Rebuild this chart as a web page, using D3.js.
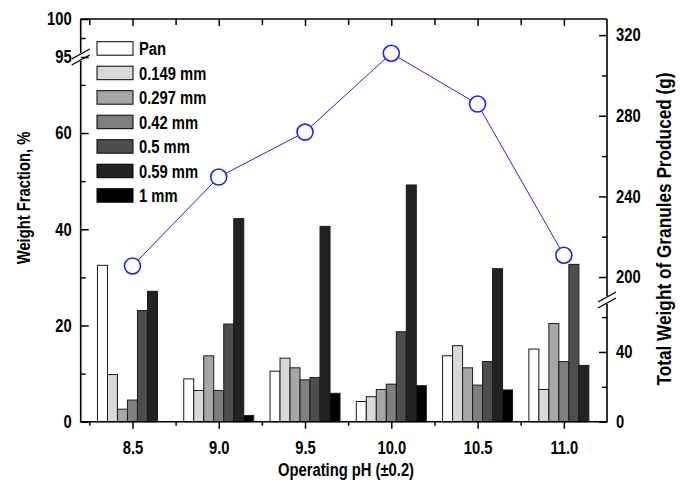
<!DOCTYPE html>
<html>
<head>
<meta charset="utf-8">
<script src="https://d3js.org/d3.v7.min.js"></script>
<style>
  body { margin: 0; background: #fff; }
  text { font-family: "Liberation Sans", Arial, sans-serif; font-weight: bold; }
</style>
</head>
<body>
<svg id="chart" width="686" height="483"></svg>
<script>

var phValues = [8.5, 9.0, 9.5, 10.0, 10.5, 11.0];
var sizeNames = ["Pan", "0.149 mm", "0.297 mm", "0.42 mm", "0.5 mm", "0.59 mm", "1 mm"];
var sizeColors = ["#ffffff", "#d9d9d9", "#a6a6a6", "#7f7f7f", "#4d4d4d", "#222222", "#000000"];

// weight fraction (%) per size, one value for each pH
var pan      = [32.5, 8.9, 10.5, 4.2, 13.7, 15.1];
var mm0149   = [9.8, 6.5, 13.2, 5.2, 15.8, 6.7];
var mm0297   = [2.6, 13.7, 11.2, 6.7, 11.2, 20.4];
var mm042    = [4.5, 6.5, 8.7, 7.8, 7.6, 12.5];
var mm05     = [23.1, 20.3, 9.2, 18.7, 12.5, 32.7];
var mm059    = [27.1, 42.2, 40.6, 49.2, 31.8, 11.7];
var mm1      = [0, 1.3, 5.9, 7.5, 6.6, 0];
var fractions = [pan, mm0149, mm0297, mm042, mm05, mm059, mm1];

// total weight of granules (g)
var totalWeight = [205.5, 249.6, 271.9, 311.0, 285.8, 210.8];

var leftTicksLow = [0, 20, 40, 60], leftMinorLow = [10, 30, 50, 70];
var leftTicksHigh = [95, 100], leftMinorHigh = [97.5];
var rightTicksLow = [0, 40], rightMinorLow = [20, 60];
var rightTicksHigh = [200, 240, 280, 320], rightMinorHigh = [220, 260, 300];
var xMajor = [8.5, 9.0, 9.5, 10.0, 10.5, 11.0];
var xMinor = [8.25, 8.75, 9.25, 9.75, 10.25, 10.75];

var svg = d3.select('#chart');
var L = 80.7, R = 607, T = 19, B = 421.7, brkL = 57, brkR = 300;

var x = d3.scaleLinear().domain([8.2, 11.25]).range([L, R]);
var yLow = d3.scaleLinear().domain([0, 75.8]).range([B, brkL]);
var yHigh = d3.scaleLinear().domain([95, 100]).range([brkL, T]);
var rLow = d3.scaleLinear().domain([0, 69.8]).range([B, brkR]);
var rHigh = d3.scaleLinear().domain([188.6, 328]).range([brkR, T]);
var band = d3.scaleBand().domain(sizeNames).range([-35, 35]);

// bars
sizeNames.forEach(function(name, i) {
  svg.append('g').selectAll('rect')
    .data(fractions[i].map(function(v, j){ return {ph: phValues[j], v: v}; }).filter(function(d){ return d.v > 0; }))
    .enter().append('rect')
      .attr('x', function(d){ return x(d.ph) + band(name); })
      .attr('width', band.bandwidth())
      .attr('y', function(d){ return yLow(d.v); })
      .attr('height', function(d){ return B - yLow(d.v); })
      .style('fill', sizeColors[i])
      .style('stroke', '#1a1a1a')
      .style('stroke-width', 1);
});

// line
var line = d3.line().x(function(d, i){ return x(phValues[i]); }).y(function(d){ return rHigh(d); });
svg.append('path').datum(totalWeight).attr('d', line)
  .style('fill', 'none').style('stroke', '#1f1fff').style('stroke-width', 1);
svg.append('g').selectAll('circle').data(totalWeight).enter().append('circle')
  .attr('cx', function(d, i){ return x(phValues[i]); })
  .attr('cy', function(d){ return rHigh(d); })
  .attr('r', 8)
  .style('fill', '#fff').style('stroke', '#1f1fff').style('stroke-width', 1.6);

// axes
var intFmt = d3.format('d');
function styleAxis(g) {
  g.select('.domain').remove();
  g.selectAll('line').style('stroke', '#000').style('stroke-width', 1.5);
  g.selectAll('text').style('font-size', '18px').style('fill', '#000');
}
function addAxis(axis, minorAxis, tx, ty) {
  var g = svg.append('g').attr('transform', 'translate(' + tx + ',' + ty + ')').call(axis).call(styleAxis);
  svg.append('g').attr('transform', 'translate(' + tx + ',' + ty + ')').call(minorAxis).call(styleAxis);
  return g;
}
addAxis(d3.axisLeft(yLow).tickValues(leftTicksLow).tickSize(-8).tickPadding(9).tickFormat(intFmt),
        d3.axisLeft(yLow).tickValues(leftMinorLow).tickSize(-5).tickFormat(''), L, 0);
addAxis(d3.axisLeft(yHigh).tickValues(leftTicksHigh).tickSize(-8).tickPadding(9).tickFormat(intFmt),
        d3.axisLeft(yHigh).tickValues(leftMinorHigh).tickSize(-5).tickFormat(''), L, 0);
addAxis(d3.axisRight(rLow).tickValues(rightTicksLow).tickSize(-8).tickPadding(9).tickFormat(intFmt),
        d3.axisRight(rLow).tickValues(rightMinorLow).tickSize(-5).tickFormat(''), R, 0);
addAxis(d3.axisRight(rHigh).tickValues(rightTicksHigh).tickSize(-8).tickPadding(9).tickFormat(intFmt),
        d3.axisRight(rHigh).tickValues(rightMinorHigh).tickSize(-5).tickFormat(''), R, 0);
addAxis(d3.axisBottom(x).tickValues(xMajor).tickSize(7).tickPadding(13).tickFormat(d3.format('.1f')),
        d3.axisBottom(x).tickValues(xMinor).tickSize(4).tickFormat(''), 0, B);
addAxis(d3.axisTop(x).tickValues(xMajor).tickSize(-7).tickFormat(''),
        d3.axisTop(x).tickValues(xMinor).tickSize(-6).tickFormat(''), 0, T);

// frame
var frame = svg.append('g').style('stroke', '#000').style('stroke-width', 1.6).style('fill', 'none');
frame.append('line').attr('x1', L).attr('x2', R).attr('y1', T).attr('y2', T);
frame.append('line').attr('x1', L - 0.8).attr('x2', R + 0.8).attr('y1', B).attr('y2', B);
frame.append('line').attr('x1', L).attr('x2', L).attr('y1', T).attr('y2', brkL - 4);
frame.append('line').attr('x1', L).attr('x2', L).attr('y1', brkL + 4).attr('y2', B);
frame.append('line').attr('x1', R).attr('x2', R).attr('y1', T).attr('y2', brkR - 4);
frame.append('line').attr('x1', R).attr('x2', R).attr('y1', brkR + 4).attr('y2', B);

// break marks
function breakMark(cx, cy) {
  [-3, 3].forEach(function(o) {
    svg.append('line')
      .attr('x1', cx - 9).attr('y1', cy + o + 5)
      .attr('x2', cx + 9).attr('y2', cy + o - 5)
      .style('stroke', '#000').style('stroke-width', 1.4);
  });
}
breakMark(L, brkL);
breakMark(R, brkR);

// legend
var legend = svg.append('g').attr('transform', 'translate(97,41.7)');
sizeNames.forEach(function(name, i) {
  var row = legend.append('g').attr('transform', 'translate(0,' + (i * 24.5) + ')');
  row.append('rect').attr('width', 36).attr('height', 13.5)
    .style('fill', sizeColors[i]).style('stroke', '#000').style('stroke-width', 1);
  row.append('text').attr('x', 42).attr('y', 13.3).style('font-size', '18px').text(name);
});

// axis titles
svg.append('text').attr('transform', 'translate(30,198) rotate(-90)')
  .attr('text-anchor', 'middle').style('font-size', '18px').text('Weight Fraction, %');
svg.append('text').attr('transform', 'translate(671,229) rotate(-90)')
  .attr('text-anchor', 'middle').style('font-size', '21px').text('Total Weight of Granules Produced (g)');
svg.append('text').attr('x', 346).attr('y', 476)
  .attr('text-anchor', 'middle').style('font-size', '18px').text('Operating pH (\u00b10.2)');

// the original uses a narrow bold face: squeeze every label horizontally
svg.selectAll('text').each(function() {
  var w = this.getComputedTextLength();
  if (w > 0) d3.select(this).attr('textLength', w * 0.82).attr('lengthAdjust', 'spacingAndGlyphs');
});

</script>
</body>
</html>
